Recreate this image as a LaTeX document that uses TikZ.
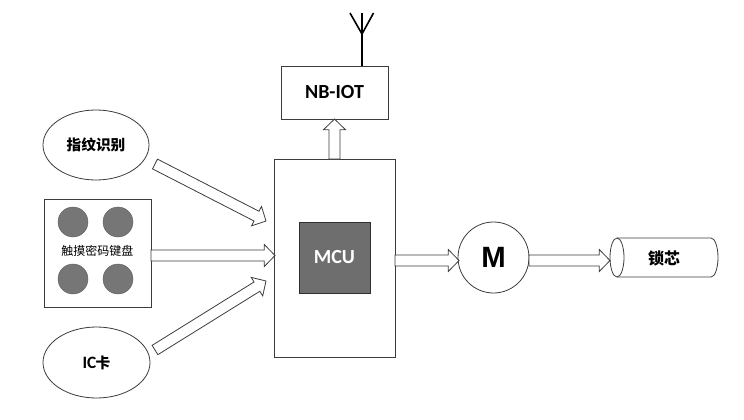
\documentclass[tikz,border=0pt]{standalone}
\usepackage{fontspec}
\setmainfont{Carlito}
\newfontfamily\cjk{Noto Sans CJK SC}
\newfontfamily\arialb{Liberation Sans}
\usetikzlibrary{calc}
\definecolor{edge}{RGB}{60,60,60}
\definecolor{dotgray}{RGB}{118,118,118}
\definecolor{mcugray}{RGB}{110,110,110}
\tikzset{
  box/.style={draw=edge, line width=0.6pt, fill=white, inner sep=0pt},
  oval/.style={draw=edge, line width=0.6pt, ellipse, inner sep=0pt},
  blk/.style={draw=edge, line width=0.6pt, fill=white, line join=miter},
  keydot/.style={circle, fill=dotgray, draw=dotgray!80!black, line width=0.3pt, minimum size=22.5pt, inner sep=0pt},
  cjkbold/.style={font=\cjk\bfseries\fontsize{11}{13}\selectfont},
}
\usetikzlibrary{shapes.geometric}
\newcommand\blockarr[2]{%
  \coordinate (neck) at ($(#2)!8pt!(#1)$);
  \draw[blk] ($(#1)!4.1pt!90:(#2)$) -- ($(neck)!4.1pt!90:(#2)$) -- ($(neck)!8.2pt!90:(#2)$) -- (#2)
    -- ($(neck)!8.2pt!-90:(#2)$) -- ($(neck)!4.1pt!-90:(#2)$) -- ($(#1)!4.1pt!-90:(#2)$) -- cycle;}
\begin{document}
\begin{tikzpicture}[x=0.75pt, y=-0.75pt]
  \fill[white] (0,0) rectangle (744,419);
  \useasboundingbox (0,0) rectangle (744,419);

  % left inputs
  \node[oval, minimum width=79.5pt, minimum height=52.5pt, cjkbold] (finger) at (96,145) {指纹识别};
  \node[box, minimum width=80.25pt, minimum height=81pt] (kbd) at (97.5,253) {};
  \node[keydot] (k1) at (73,222) {};
  \node[keydot] (k2) at (118,222) {};
  \node[keydot] (k3) at (73,279) {};
  \node[keydot] (k4) at (118,279) {};
  \node[font=\cjk\fontsize{9}{11}\selectfont] (kbdtext) at (97.5,251) {触摸密码键盘};
  \node[oval, minimum width=80.25pt, minimum height=53.25pt] (ic) at (96.5,362.5)
    {\bfseries\fontsize{13}{15}\selectfont IC\hspace{-0.5pt}{\cjk\fontsize{11}{13}\selectfont 卡}};

  % MCU
  \node[box, minimum width=90.75pt, minimum height=148.5pt] (mcubox) at (334.5,258) {};
  \node[draw=edge!80!black, line width=0.6pt, fill=mcugray, minimum width=53.25pt, minimum height=53.25pt, inner sep=0pt,
        text=white, font=\bfseries\fontsize{15}{17}\selectfont] (mcu) at (334.5,257.5) {MCU};

  % NB-IOT
  \node[box, minimum width=80.25pt, minimum height=39.75pt, font=\bfseries\fontsize{15}{17}\selectfont] (nb) at (334.5,92.5) {NB-IOT};
  \coordinate (antbase) at (362,66);
  \coordinate (anttop) at (362,13);
  \coordinate (antv) at (362,34);
  \coordinate (antl) at (350,13);
  \coordinate (antr) at (373.5,13);
  \draw[line width=1.2pt, black] (antbase) -- (anttop);
  \draw[line width=1.2pt, black] (antl) -- (antv) -- (antr);

  % motor
  \node[circle, draw=edge, line width=0.6pt, minimum size=53.25pt, inner sep=0pt,
        font=\arialb\bfseries\fontsize{22}{24}\selectfont] (motor) at (493.5,257.5) {M};

  % lock cylinder
  \draw[draw=edge, line width=0.6pt, fill=white] (617,238) -- (711,238)
     arc[start angle=-90, end angle=90, x radius=7, y radius=19.5] -- (617,277);
  \draw[draw=edge, line width=0.6pt] (617,257.5) ellipse[x radius=7, y radius=19.5];
  \node[font=\cjk\bfseries\fontsize{12}{14}\selectfont] (lock) at (664,258) {锁芯};

  % arrow endpoints
  \coordinate (a1s) at (155,164);
  \coordinate (a1e) at (266,221);
  \coordinate (a2s) at (151,255.5);
  \coordinate (a2e) at (275,255.5);
  \coordinate (a3s) at (155,350);
  \coordinate (a3e) at (266,281);
  \coordinate (aus) at (334.5,159);
  \coordinate (aue) at (334.5,119);
  \coordinate (ams) at (395,260.5);
  \coordinate (ame) at (459,260.5);
  \coordinate (als) at (529,260.5);
  \coordinate (ale) at (610,260.5);

  \blockarr{a1s}{a1e}
  \blockarr{a2s}{a2e}
  \blockarr{a3s}{a3e}
  \blockarr{aus}{aue}
  \blockarr{ams}{ame}
  \blockarr{als}{ale}
\end{tikzpicture}
\end{document}
